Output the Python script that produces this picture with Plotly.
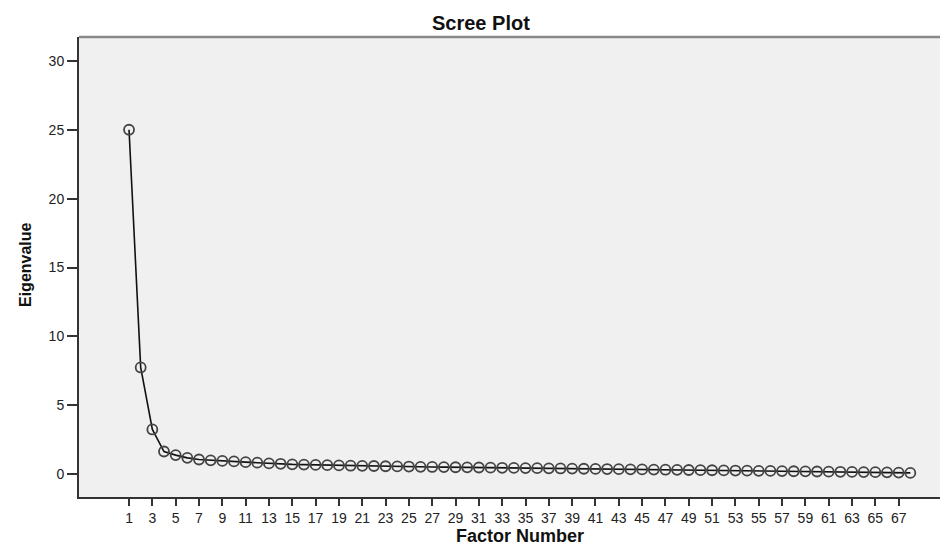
import plotly.graph_objects as go

factor_number = list(range(1, 69))
eigenvalues = [
    25.0, 7.75, 3.25, 1.65, 1.39, 1.19, 1.07, 1.01, 0.97, 0.93,
    0.88, 0.84, 0.79, 0.76, 0.72, 0.70, 0.68, 0.66, 0.64, 0.62,
    0.61, 0.60, 0.58, 0.57, 0.56, 0.54, 0.53, 0.52, 0.51, 0.50,
    0.49, 0.48, 0.47, 0.46, 0.45, 0.44, 0.43, 0.42, 0.41, 0.40,
    0.39, 0.38, 0.37, 0.36, 0.35, 0.34, 0.33, 0.32, 0.31, 0.30,
    0.29, 0.28, 0.27, 0.26, 0.25, 0.24, 0.23, 0.22, 0.21, 0.20,
    0.19, 0.18, 0.17, 0.16, 0.15, 0.14, 0.12, 0.10,
]
x_tick_values = list(range(1, 68, 2))
y_tick_values = [0, 5, 10, 15, 20, 25, 30]

FONT = "Liberation Sans, Arial, sans-serif"

# page body has an 8px margin: figure is placed at (8, 8) in the window
fig = go.Figure()
fig.add_trace(go.Scatter(
    x=factor_number, y=eigenvalues, mode="lines+markers",
    line=dict(color="#111111", width=1.6),
    marker=dict(symbol="circle-open", size=10, color="#444444",
                line=dict(color="#444444", width=1.8)),
    showlegend=False,
))

fig.update_layout(
    width=940, height=539,
    margin=dict(l=71, r=0, t=29, b=50),
    paper_bgcolor="white", plot_bgcolor="#F0F0F0",
    font=dict(family=FONT, color="#222222", size=14),
    xaxis=dict(range=[-3.29, 71.23], tickmode="array", tickvals=x_tick_values,
               ticktext=[str(v) for v in x_tick_values],
               showgrid=False, zeroline=False, showline=True,
               linecolor="#333333", linewidth=2, ticks="outside",
               ticklen=7, tickwidth=1.5, tickcolor="#333333",
               tickfont=dict(size=14, color="#222222")),
    yaxis=dict(range=[-1.65, 31.73], tickmode="array", tickvals=y_tick_values,
               showgrid=False, zeroline=False, showline=True,
               linecolor="#333333", linewidth=2, ticks="outside",
               ticklen=10, tickwidth=1.5, tickcolor="#333333",
               tickfont=dict(size=14, color="#222222")),
    shapes=[dict(type="line", xref="paper", yref="paper", x0=0, x1=1, y0=1, y1=1,
                 line=dict(color="#888888", width=2.5))],
    annotations=[
        dict(text="<b>Scree Plot</b>", xref="paper", yref="paper",
             x=(481 - 79) / 869, y=1, yshift=14, xanchor="center", yanchor="middle",
             showarrow=False, font=dict(size=20, color="#111111", family=FONT)),
        dict(text="<b>Factor Number</b>", xref="paper", yref="paper",
             x=(520 - 79) / 869, y=0, yshift=-39, xanchor="center", yanchor="middle",
             showarrow=False, font=dict(size=18, color="#111111", family=FONT)),
        dict(text="<b>Eigenvalue</b>", xref="paper", yref="paper",
             x=0, xshift=-54, y=(497 - 265) / 460, xanchor="center", yanchor="middle",
             textangle=-90, showarrow=False,
             font=dict(size=16, color="#111111", family=FONT)),
    ],
)

fig.write_html("out.html")
